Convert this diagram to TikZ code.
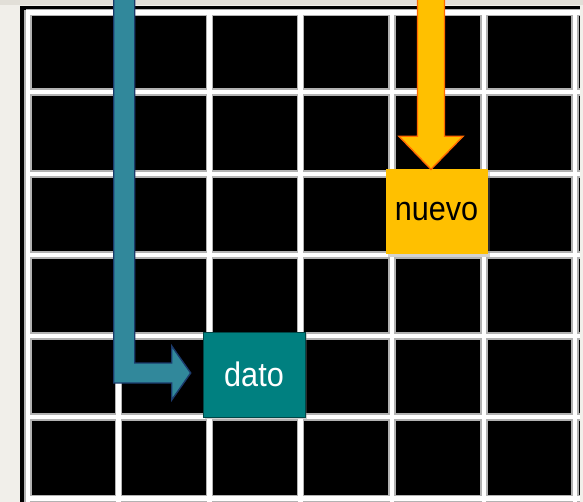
\documentclass[tikz,border=0pt]{standalone}
\usepackage{fontspec}
\setmainfont{Liberation Sans}
\usetikzlibrary{calc,shadows}

\definecolor{paper}{HTML}{F1EFEA}
\definecolor{paperTop}{HTML}{E2DFD8}
\definecolor{tealfill}{HTML}{31889B}
\definecolor{tealedge}{HTML}{1B3A6B}
\definecolor{boxteal}{HTML}{008080}
\definecolor{amber}{HTML}{FFC000}
\definecolor{amberedge}{HTML}{FF6A00}

\tikzset{
  gridhalo/.style={draw=gray!60, line width=7.5pt},
  gridcore/.style={draw=white, line width=4.5pt},
  cellbox/.style={rectangle, inner sep=0pt, minimum width=102pt, minimum height=85pt,
    font=\fontsize{34}{40}\selectfont},
  datobox/.style={cellbox, fill=boxteal, draw=boxteal!55!black, line width=0.6pt, text=white,
    drop shadow={opacity=0.35, shadow xshift=2pt, shadow yshift=-2pt}},
  nuevobox/.style={cellbox, fill=amber, text=black,
    drop shadow={opacity=0.35, shadow xshift=2pt, shadow yshift=-2.5pt}},
  tealarrow/.style={fill=tealfill, draw=tealedge, line width=1.4pt, line join=miter},
  amberarrow/.style={fill=amber, draw=amberedge, line width=1.4pt, line join=miter},
}
\newcommand{\narrow}[1]{\scalebox{0.9}[1]{#1}}

\begin{document}
\begin{tikzpicture}[x=1pt, y=-1pt]
  \useasboundingbox (0,0) rectangle (583,502);
  \clip (0,0) rectangle (583,502);

  % page background
  \fill[paper] (0,0) rectangle (583,502);
  \fill[paperTop] (0,0) rectangle (583,5);

  % black board
  \fill[black] (20,6) rectangle (580,510);

  % grid lines: grey halo first, white core on top
  \foreach \x in {28,118.5,209.5,300.5,392,484,575}
    \path[gridhalo] (\x,10) -- (\x,510);
  \foreach \y in {12.5,92,174,255,336,417,498.5}
    \path[gridhalo] (26,\y) -- (580,\y);
  \foreach \x in {28,118.5,209.5,300.5,392,484,575}
    \path[gridcore] (\x,10) -- (\x,510);
  \foreach \y in {12.5,92,174,255,336,417,498.5}
    \path[gridcore] (26,\y) -- (580,\y);

  % cells
  \node[datobox]  (dato)  at (254,374.5) {\narrow{dato}};
  \node[nuevobox] (nuevo) at (436.5,212) {\narrow{nuevo}};

  % bent block arrow into "dato"
  \coordinate (tealTip) at ($(dato.west)+(-12,-1.5)$);
  \draw[tealarrow] (tealTip) -- ++(-19,-27) -- ++(0,17) -- ++(-37,0) -- ++(0,-375)
    -- ++(-21,0) -- ++(0,395) -- ++(58,0) -- ++(0,17) -- cycle;

  % straight block arrow into "nuevo"
  \coordinate (amberTip) at ($(nuevo.north)+(-5.5,0)$);
  \draw[amberarrow] (amberTip) -- ++(32,-33) -- ++(-18.5,0) -- ++(0,-150)
    -- ++(-27,0) -- ++(0,150) -- ++(-18.5,0) -- cycle;
\end{tikzpicture}
\end{document}
